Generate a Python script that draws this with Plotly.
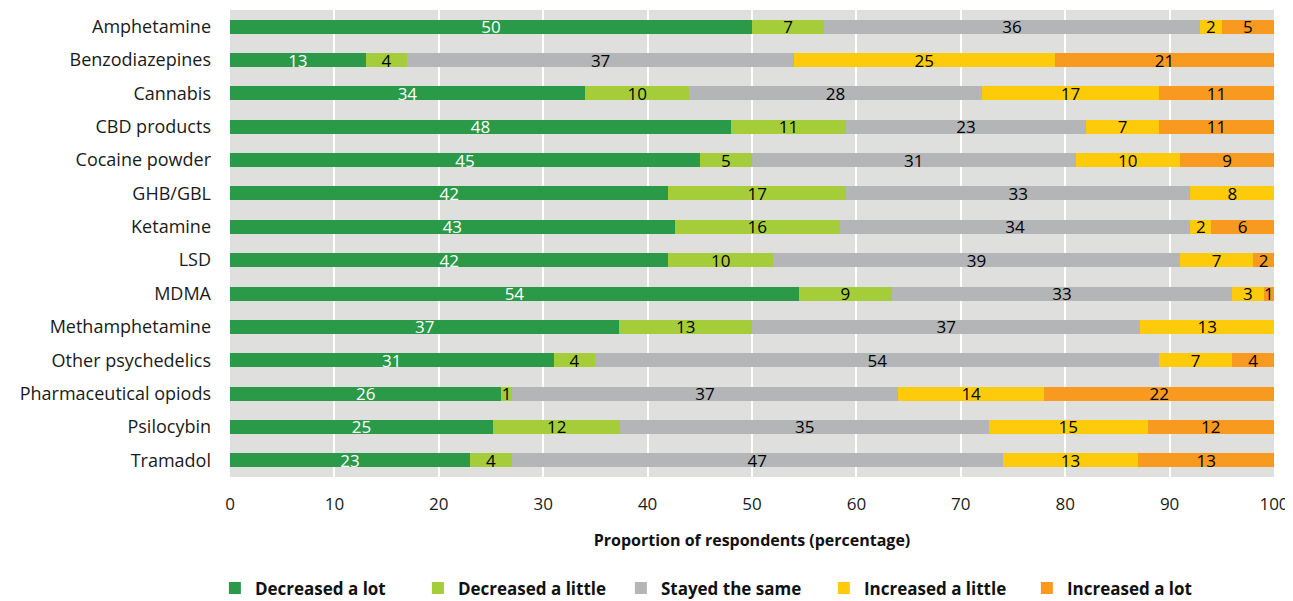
import plotly.graph_objects as go

categories = ["Amphetamine", "Benzodiazepines", "Cannabis", "CBD products", "Cocaine powder",
              "GHB/GBL", "Ketamine", "LSD", "MDMA", "Methamphetamine", "Other psychedelics",
              "Pharmaceutical opiods", "Psilocybin", "Tramadol"]

decreased_lot = [50, 13, 34, 48, 45, 42, 42.6, 42, 54.5, 37.3, 31, 26, 25.2, 23]
decreased_little = [6.9, 4, 10, 11, 5, 17, 15.8, 10, 8.9, 12.7, 4, 1, 12.2, 4]
stayed_same = [36, 37, 28, 23, 31, 33, 33.6, 39, 32.6, 37.2, 54, 37, 35.3, 47]
increased_little = [2.1, 25, 17, 7, 10, 8, 2.0, 7, 3.0, 12.8, 7, 14, 15.2, 13]
increased_lot = [5, 21, 11, 11, 9, 0, 6.0, 2, 1.0, 0, 4, 22, 12.1, 13]

series_names = ["Decreased a lot", "Decreased a little", "Stayed the same",
                "Increased a little", "Increased a lot"]
series_values = [decreased_lot, decreased_little, stayed_same, increased_little, increased_lot]
colors = ["#2a9a48", "#a5cd39", "#b3b5b6", "#fecb0a", "#f79a1f"]
text_colors = ["white", "black", "black", "black", "black"]

FONT = "'Open Sans', 'Noto Sans', sans-serif"

fig = go.Figure()
for name, vals, col, tcol in zip(series_names, series_values, colors, text_colors):
    fig.add_trace(go.Bar(
        y=categories, x=vals, name=name, orientation="h",
        marker=dict(color=col, line=dict(width=0)),
        text=[f"{v:.0f}" if v > 0 else "" for v in vals],
        textposition="inside", insidetextanchor="middle", textangle=0,
        textfont=dict(color=tcol, size=17, family=FONT),
        hoverinfo="x+y+name",
    ))

fig.update_layout(
    barmode="stack",
    bargap=0.58,
    width=1285, height=593,
    margin=dict(l=222, r=19, t=2, b=124, autoexpand=False),
    plot_bgcolor="#dfe0de",
    paper_bgcolor="white",
    font=dict(family=FONT, size=17, color="#1a1a1a"),
    uniformtext=dict(minsize=17, mode="show"),
    legend=dict(orientation="h", xref="container", yref="container",
                x=0.161, xanchor="left", y=0.021, yanchor="middle",
                font=dict(size=17, family=FONT, color="#111111", weight="bold"),
                itemwidth=30, entrywidth=158, traceorder="normal"),
    showlegend=True,
)
fig.update_xaxes(
    range=[0, 100], dtick=10, showgrid=True, gridcolor="white", gridwidth=2,
    zeroline=False, automargin=False,
    tickfont=dict(size=17, family=FONT, color="#1a1a1a"),
    ticklabelstandoff=15,
    title=dict(text="Proportion of respondents (percentage)",
               font=dict(size=16, family=FONT, color="#111111", weight="bold"), standoff=20),
    fixedrange=True,
)
fig.update_yaxes(
    autorange="reversed", showgrid=False, automargin=False,
    tickfont=dict(size=18, family=FONT, color="#1a1a1a"),
    ticklabelstandoff=18,
    fixedrange=True,
)

fig.write_html("out.html")
